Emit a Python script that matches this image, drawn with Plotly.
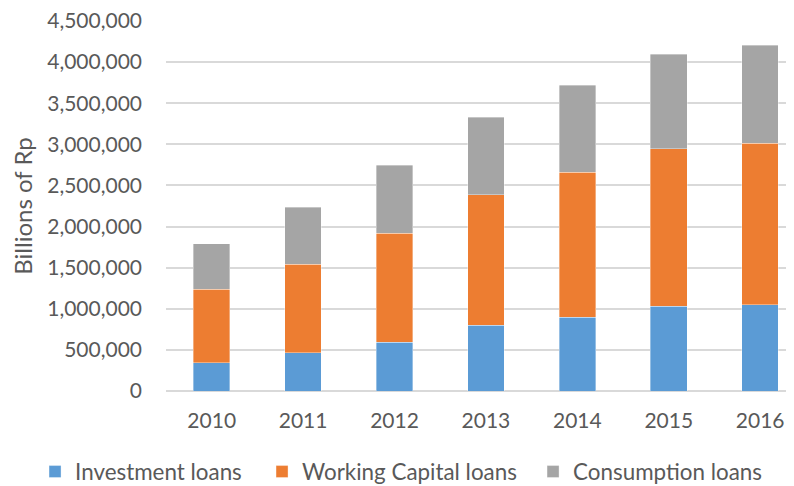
import plotly.graph_objects as go

years = ["2010", "2011", "2012", "2013", "2014", "2015", "2016"]
investment = [345000, 463000, 594000, 801000, 899000, 1028000, 1052000]
working_capital = [890000, 1077000, 1324000, 1586000, 1763000, 1919000, 1964000]
consumption = [554000, 692000, 826000, 942000, 1054000, 1147000, 1191000]

FONT = "Lato"
GREY_TEXT = "#595959"

# page body has an 8px margin, so the figure is drawn 8px in from the top-left
series = [
    ("Investment loans", investment, "#5B9BD5", "legend", 0.0344),
    ("Working Capital loans", working_capital, "#ED7D31", "legend2", 0.3232),
    ("Consumption loans", consumption, "#A5A5A5", "legend3", 0.668),
]

fig = go.Figure()
for name, vals, col, leg, _ in series:
    fig.add_trace(go.Bar(
        x=years, y=vals, name=name, width=0.4, legend=leg,
        marker=dict(color=col, line=dict(color="rgba(255,255,255,0.6)", width=0.6)),
    ))

legend_style = dict(orientation="h", xref="container", yref="container",
                    y=0.0293, yanchor="middle", xanchor="left",
                    font=dict(family=FONT, size=22.4, color=GREY_TEXT),
                    bgcolor="rgba(0,0,0,0)", itemwidth=30)

fig.update_layout(
    barmode="stack",
    width=786, height=478,
    margin=dict(l=158, r=0, t=13, b=95, autoexpand=False),
    paper_bgcolor="white", plot_bgcolor="white",
    font=dict(family=FONT, size=21, color=GREY_TEXT),
    showlegend=True,
    legend=dict(x=series[0][4], **legend_style),
    legend2=dict(x=series[1][4], **legend_style),
    legend3=dict(x=series[2][4], **legend_style),
)
fig.update_xaxes(
    type="category", range=[-0.5, 6.37], automargin=False,
    showgrid=False, showline=False, ticks="", ticklabelstandoff=15,
    tickfont=dict(size=21, color=GREY_TEXT),
)
fig.update_yaxes(
    range=[0, 4500000], dtick=500000, tickformat=",d", automargin=False,
    ticklabeloverflow="allow",
    showgrid=True, gridcolor="#D9D9D9", gridwidth=1.5,
    zeroline=True, zerolinecolor="#D9D9D9", zerolinewidth=1.5,
    showline=False, ticks="", ticklabelstandoff=23,
    title=dict(text="Billions of Rp", font=dict(size=24, color=GREY_TEXT), standoff=11),
    tickfont=dict(size=21, color=GREY_TEXT),
)

fig.write_html("out.html")
